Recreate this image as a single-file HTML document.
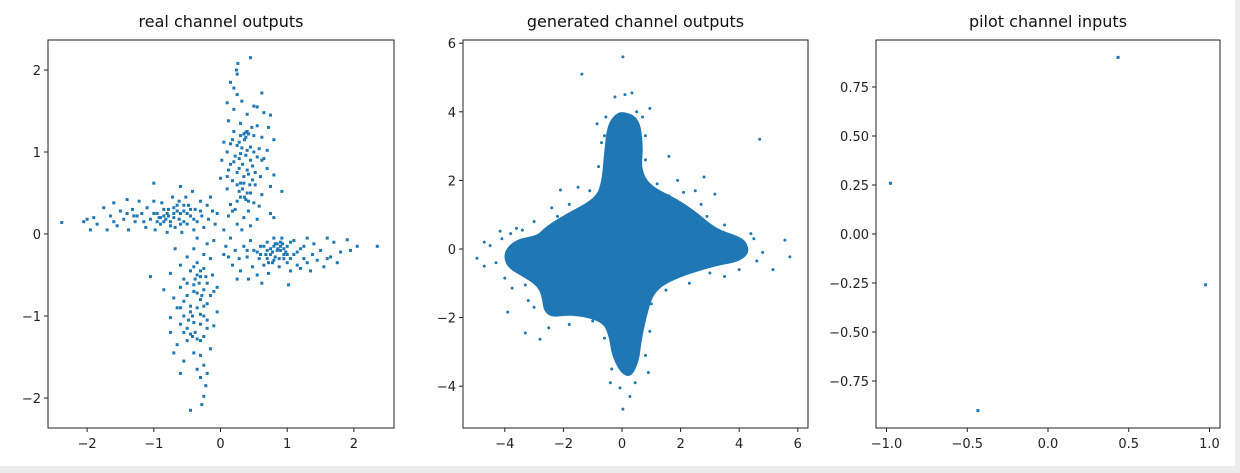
<!DOCTYPE html>
<html><head><meta charset="utf-8"><style>
html,body{margin:0;padding:0;background:#fff;}
svg{display:block;font-family:"DejaVu Sans","Liberation Sans",sans-serif;}
</style></head><body>
<svg id="fig" width="1240" height="473" viewBox="0 0 1240 473" xmlns="http://www.w3.org/2000/svg">
<rect x="0" y="0" width="1240" height="473" fill="#fff"/>
<rect x="0" y="466" width="1240" height="7" fill="#ececec"/>
<rect x="1235" y="0" width="5" height="473" fill="#ececec"/>
<g id="root"></g>
</svg>
<script>
// ---- Data: real channel outputs (four arms) ----
const realUp=[[0.45,2.15],[0.26,2.08],[0.24,2.0],[0.25,1.95],[0.15,1.85],[0.2,1.78],[0.62,1.72],[0.25,1.7],[0.32,1.62],[0.1,1.6],[0.5,1.56],[0.55,1.55],[0.2,1.52],[0.65,1.48],[0.4,1.46],[0.75,1.45],[0.12,1.38],[0.3,1.35],[0.55,1.32],[0.72,1.3],[0.2,1.25],[0.38,1.24],[0.42,1.22],[0.5,1.2],[0.62,1.18],[0.8,1.15],[0.05,1.12],[0.15,1.1],[0.25,1.08],[0.45,1.06],[0.58,1.04],[0.7,1.02],[0.1,1.0],[0.3,0.98],[0.38,0.96],[0.55,0.94],[0.65,0.92],[0.02,0.9],[0.2,0.88],[0.33,0.85],[0.48,0.83],[0.7,0.8],[0.12,0.78],[0.25,0.75],[0.42,0.73],[0.6,0.7],[0.8,0.72],[0.0,0.68],[0.18,0.65],[0.35,0.62],[0.52,0.6],[0.75,0.58],[0.1,0.55],[0.28,0.52],[0.45,0.5],[0.62,0.48],[0.92,0.52],[0.3,0.45],[0.38,0.42],[0.5,0.38],[0.15,0.36],[0.58,0.34],[0.22,0.3],[0.42,0.28],[0.75,0.25],[0.12,0.22],[0.35,0.2],[0.55,0.18],[0.8,0.2],[0.25,0.12],[0.45,0.1],[0.05,0.05],[0.32,0.05],[0.18,0.28],[0.4,0.78],[0.28,0.92],[0.36,1.15],[0.5,1.0],[0.44,0.6],[0.33,0.55],[0.25,0.4],[0.62,0.9],[0.1,0.7],[0.47,1.3]];
const realRight=[[2.35,-0.15],[2.05,-0.15],[1.95,-0.2],[1.9,-0.07],[1.8,-0.22],[1.75,-0.35],[1.7,-0.1],[1.65,-0.28],[1.6,-0.05],[1.55,-0.4],[1.5,-0.2],[1.45,-0.32],[1.4,-0.12],[1.35,-0.45],[1.38,-0.25],[1.3,-0.05],[1.25,-0.3],[1.2,-0.18],[1.15,-0.38],[1.1,-0.08],[1.1,-0.25],[1.05,-0.45],[1.02,-0.62],[1.0,-0.15],[0.95,-0.3],[0.92,-0.05],[0.9,-0.2],[0.88,-0.4],[0.85,-0.12],[0.82,-0.28],[0.8,-0.05],[0.78,-0.35],[0.75,-0.18],[0.72,-0.48],[0.7,-0.1],[0.68,-0.25],[0.65,-0.38],[0.62,-0.6],[0.6,-0.15],[0.58,-0.3],[0.55,-0.5],[0.5,-0.2],[0.48,-0.4],[0.45,-0.08],[0.42,-0.55],[0.4,-0.28],[0.35,-0.15],[0.3,-0.45],[0.28,-0.3],[0.22,-0.2],[0.18,-0.38],[0.12,-0.28],[0.08,-0.15],[0.05,-0.25],[0.15,-0.05],[0.25,-0.55],[0.98,-0.22],[0.86,-0.18],[0.93,-0.12],[0.78,-0.22],[1.2,-0.42],[1.6,-0.3],[1.3,-0.35],[0.7,-0.3],[0.55,-0.22],[1.05,-0.3]];
const realLeft=[[-2.38,0.14],[-2.05,0.15],[-2.0,0.18],[-1.95,0.05],[-1.9,0.2],[-1.85,0.12],[-1.75,0.32],[-1.7,0.05],[-1.65,0.22],[-1.6,0.38],[-1.55,0.1],[-1.5,0.28],[-1.45,0.18],[-1.4,0.42],[-1.38,0.05],[-1.32,0.3],[-1.28,0.15],[-1.22,0.4],[-1.18,0.25],[-1.12,0.08],[-1.1,0.32],[-1.05,0.18],[-1.0,0.62],[-1.0,0.4],[-0.98,0.05],[-0.95,0.25],[-0.9,0.12],[-0.88,0.38],[-0.85,0.22],[-0.8,0.02],[-0.78,0.3],[-0.75,0.15],[-0.72,0.45],[-0.7,0.25],[-0.68,0.08],[-0.65,0.35],[-0.62,0.18],[-0.6,0.58],[-0.58,0.02],[-0.55,0.28],[-0.52,0.45],[-0.5,0.12],[-0.48,0.35],[-0.45,0.22],[-0.42,0.52],[-0.4,0.05],[-0.38,0.3],[-0.35,0.15],[-0.3,0.4],[-0.28,0.22],[-0.25,0.08],[-0.2,0.35],[-0.18,0.18],[-0.12,0.28],[-0.08,0.12],[-0.05,0.25],[-0.15,0.45],[-0.82,0.18],[-0.92,0.2],[-0.6,0.25],[-0.7,0.32],[-0.55,0.15],[-1.25,0.22],[-1.6,0.15]];
const realDown=[[-0.45,-2.15],[-0.28,-2.08],[-0.25,-1.98],[-0.22,-1.85],[-0.3,-1.75],[-0.2,-1.7],[-0.35,-1.65],[-0.25,-1.6],[-0.6,-1.7],[-0.55,-1.55],[-0.4,-1.45],[-0.7,-1.45],[-0.3,-1.48],[-0.15,-1.4],[-0.65,-1.35],[-0.5,-1.3],[-0.35,-1.28],[-0.75,-1.2],[-0.45,-1.22],[-0.25,-1.25],[-0.2,-1.15],[-0.6,-1.1],[-0.4,-1.08],[-0.1,-1.12],[-0.75,-1.02],[-0.55,-1.0],[-0.3,-0.98],[-0.05,-0.95],[-0.65,-0.9],[-0.45,-0.88],[-0.2,-0.85],[-0.7,-0.78],[-0.5,-0.75],[-0.35,-0.72],[-0.1,-0.7],[-0.85,-0.68],[-0.6,-0.65],[-0.4,-0.62],[-0.2,-0.6],[-0.05,-0.65],[-0.55,-0.55],[-0.3,-0.52],[-0.12,-0.5],[-0.75,-0.48],[-0.45,-0.45],[-0.25,-0.42],[-1.05,-0.52],[-0.6,-0.38],[-0.35,-0.35],[-0.15,-0.3],[-0.5,-0.28],[-0.25,-0.25],[-0.4,-0.18],[-0.68,-0.18],[-0.2,-0.12],[-0.1,-0.08],[-0.35,-0.05],[-0.3,-0.8],[-0.42,-1.0],[-0.3,-1.1],[-0.5,-1.15],[-0.25,-0.68],[-0.55,-0.82],[-0.38,-0.55]];
const realCore=[[0.3,1.2],[0.35,1.22],[0.4,1.25],[0.38,1.18],[0.32,1.05],[0.4,1.02],[0.28,0.8],[0.35,0.7],[0.4,0.5],[0.36,0.45],[0.3,0.62],[0.22,0.95],[0.45,0.9],[0.52,0.75],[0.18,1.15],[0.28,1.12],[0.42,0.4],[0.48,0.66],[0.15,0.85],[0.25,0.6],
[0.8,-0.15],[0.85,-0.2],[0.9,-0.1],[0.95,-0.18],[1.0,-0.25],[0.75,-0.25],[0.82,-0.12],[0.88,-0.3],[0.7,-0.2],[1.05,-0.1],[0.95,-0.25],[0.8,-0.32],[1.15,-0.22],[0.65,-0.15],[0.9,-0.15],[1.25,-0.15],[0.6,-0.25],[0.72,-0.35],[1.0,-0.35],[0.4,-0.2],
[-0.9,0.2],[-0.85,0.15],[-0.8,0.25],[-0.75,0.1],[-0.7,0.2],[-0.65,0.28],[-0.95,0.15],[-1.0,0.25],[-0.6,0.12],[-0.55,0.35],[-0.5,0.25],[-0.45,0.3],[-0.85,0.3],[-0.78,0.22],[-1.15,0.15],[-1.3,0.22],[-0.4,0.18],[-0.3,0.28],[-0.62,0.4],[-1.4,0.25],
[-0.35,-0.5],[-0.3,-0.45],[-0.32,-0.6],[-0.4,-0.7],[-0.28,-0.75],[-0.45,-0.95],[-0.35,-0.9],[-0.38,-1.2],[-0.42,-1.25],[-0.2,-1.05],[-0.25,-1.0],[-0.5,-0.6],[-0.22,-0.52],[-0.48,-1.05],[-0.3,-1.3],[-0.55,-1.2],[-0.15,-0.75],[-0.25,-0.88],[-0.4,-0.4],[-0.6,-0.9]];
// ---- Data: generated channel outputs (dense envelope + sparse points) ----
const genEnvelope=[[0.03,3.97],[0.55,3.8],[0.68,3.0],[0.6,2.3],[0.95,1.8],[1.85,1.43],[2.5,1.05],[3.2,0.55],[3.9,0.35],[4.2,0.2],[4.3,-0.12],[3.9,-0.35],[3.2,-0.45],[1.85,-0.8],[1.05,-1.2],[0.78,-1.98],[0.6,-2.75],[0.55,-3.2],[0.3,-3.7],[0.0,-3.6],[-0.3,-3.1],[-0.4,-2.5],[-0.65,-2.07],[-1.67,-1.87],[-2.6,-1.97],[-2.7,-1.28],[-2.93,-1.0],[-3.4,-0.75],[-3.9,-0.5],[-4.0,-0.1],[-3.6,0.25],[-2.87,0.35],[-2.6,0.6],[-2.0,0.93],[-0.9,1.43],[-0.65,1.9],[-0.55,2.9],[-0.45,3.6],[-0.2,3.9]];
const genOutliers=[[0.03,5.6],[-1.37,5.1],[4.7,3.2],[0.95,4.1],[1.6,2.7],[2.8,2.1],[5.73,-0.23],[5.56,0.26],[-4.95,-0.27],[-3.9,-1.84],[-2.8,-2.63],[0.03,-4.67],[0.27,-4.3],[-2.1,1.72],[-4.16,0.52],[3.17,1.6],[5.15,-0.6],[-3.3,-2.45],[-0.07,-4.05],[-1.5,1.8],[1.9,2.0],[-0.85,3.65],[-0.24,4.43],[0.1,4.5],[0.34,4.55],[-3.75,-1.14],[4.5,0.3],[4.8,-0.1],[-4.7,0.2],[-3.6,0.6],[2.5,1.7],[3.5,-0.8],[-3.2,-1.5],[0.9,-3.6],[-0.4,-3.9],[0.5,4.0],[-0.6,3.3],
[-4.5,0.1],[-4.3,-0.4],[-4.1,0.3],[-3.4,0.55],[-3.0,0.8],[-2.4,1.2],[-1.8,1.3],[-1.1,1.7],[-0.8,2.4],[-0.7,3.1],[0.8,3.3],[0.8,2.6],[1.2,1.9],[2.1,1.65],[2.7,1.3],[2.9,0.95],[3.5,0.7],[4.4,0.45],[4.6,-0.35],[4.0,-0.6],[3.0,-0.7],[2.3,-1.0],[1.5,-1.2],[1.0,-1.6],[0.95,-2.4],[0.8,-3.1],[0.45,-3.9],[-0.35,-3.5],[-0.6,-2.6],[-1.0,-2.1],[-1.8,-2.2],[-2.5,-2.3],[-3.0,-1.7],[-3.3,-1.05],[-4.0,-0.85],[-4.7,-0.5],[-3.8,0.45],[-2.2,0.95],[1.6,1.55],[3.8,0.1],[-0.55,3.85],[0.7,3.85]];
// ---- Data: pilot channel inputs ----
const pilotX=[0.434,-0.975,0.975,-0.434];
const pilotY=[0.901,0.259,-0.259,-0.901];
// ---- Tick values ----
const t1x=[-2,-1,0,1,2], t1y=[-2,-1,0,1,2];
const t2x=[-4,-2,0,2,4,6], t2y=[-4,-2,0,2,4,6];
const t3x=[-1,-0.5,0,0.5,1], t3y=[-0.75,-0.5,-0.25,0,0.25,0.5,0.75];

const NS="http://www.w3.org/2000/svg";
const root=document.getElementById('root');
const C="#1f77b4";
function mk(tag,attrs,parent){const e=document.createElementNS(NS,tag);for(const k in attrs)e.setAttribute(k,attrs[k]);(parent||root).appendChild(e);return e;}
function lin(d0,d1,p0,p1){return v=>p0+(v-d0)*(p1-p0)/(d1-d0);}

function axes(name,box,sx,sy,tx,ty,fmtx,fmty,title){
  const g=mk('g',{});
  
  
  const t=mk('text',{x:(box.l+box.r)/2,y:27,'text-anchor':'middle','font-size':16,fill:'#111'},g);
  t.textContent=title;
  
  
  tx.forEach(v=>{const x=sx(v);
    mk('line',{x1:x,x2:x,y1:box.b,y2:box.b+4,stroke:'#222','stroke-width':1},g);
    const l=mk('text',{x:x,y:box.b+20,'text-anchor':'middle','font-size':13,fill:'#222'},g);
    l.textContent=fmtx(v);
    
    });
  ty.forEach(v=>{const y=sy(v);
    mk('line',{x1:box.l-4,x2:box.l,y1:y,y2:y,stroke:'#222','stroke-width':1},g);
    const l=mk('text',{x:box.l-7,y:y+5,'text-anchor':'end','font-size':13,fill:'#222'},g);
    l.textContent=fmty(v);
    
    });
  return g;
}
function frame(g,box){const r=mk('rect',{x:box.l,y:box.t,width:box.r-box.l,height:box.b-box.t,fill:'none',stroke:'#222','stroke-width':1},g);
  
  }
const minus=s=>s.replace('-','\u2212');
const fi=v=>minus(String(v));
const f1=v=>minus(v.toFixed(1));
const f2=v=>minus(v.toFixed(2));

// Panel 1
const b1={l:48,r:394,t:40,b:428};
const x1=lin(0,1,220.5,287.2), y1=lin(0,1,234,152);
const g1=axes('real-channel-outputs-panel',b1,x1,y1,t1x,t1y,fi,fi,'real channel outputs');
[realUp,realRight,realLeft,realDown,realCore].forEach(arr=>arr.forEach(p=>{
  const r=mk('rect',{x:x1(p[0])-1.5,y:y1(p[1])-1.5,width:3,height:3,fill:C},g1);
  
  }));
frame(g1,b1);

// Panel 2
const b2={l:463,r:808,t:40,b:428};
const x2=lin(0,2,622,680.6), y2=lin(0,2,249,180.4);
const g2=axes('generated-channel-outputs-panel',b2,x2,y2,t2x,t2y,fi,fi,'generated channel outputs');
const P=genEnvelope.map(p=>[x2(p[0]),y2(p[1])]);
const n=P.length;
const mid=i=>{const a=P[i%n],b=P[(i+1)%n];return [(a[0]+b[0])/2,(a[1]+b[1])/2];};
let d='M'+mid(0).map(v=>v.toFixed(1)).join(',');
for(let i=1;i<=n;i++){const c=P[i%n],m=mid(i);d+='Q'+c[0].toFixed(1)+','+c[1].toFixed(1)+' '+m[0].toFixed(1)+','+m[1].toFixed(1);}
const env=mk('path',{d:d+'Z',fill:C,stroke:C,'stroke-width':3,'stroke-linejoin':'round'},g2);


genOutliers.forEach(p=>{const c=mk('circle',{cx:x2(p[0]),cy:y2(p[1]),r:1.5,fill:C},g2);
  
  });
frame(g2,b2);

// Panel 3
const b3={l:876,r:1220,t:40,b:428};
const x3=lin(0,1,1048,1209.5), y3=lin(0,1,234,38);
const g3=axes('pilot-channel-inputs-panel',b3,x3,y3,t3x,t3y,f1,f2,'pilot channel inputs');
pilotX.forEach((xv,i)=>{const r=mk('rect',{x:x3(xv)-1.5,y:y3(pilotY[i])-1.5,width:3,height:3,fill:C},g3);
  
  });
frame(g3,b3);
</script>
</body></html>
